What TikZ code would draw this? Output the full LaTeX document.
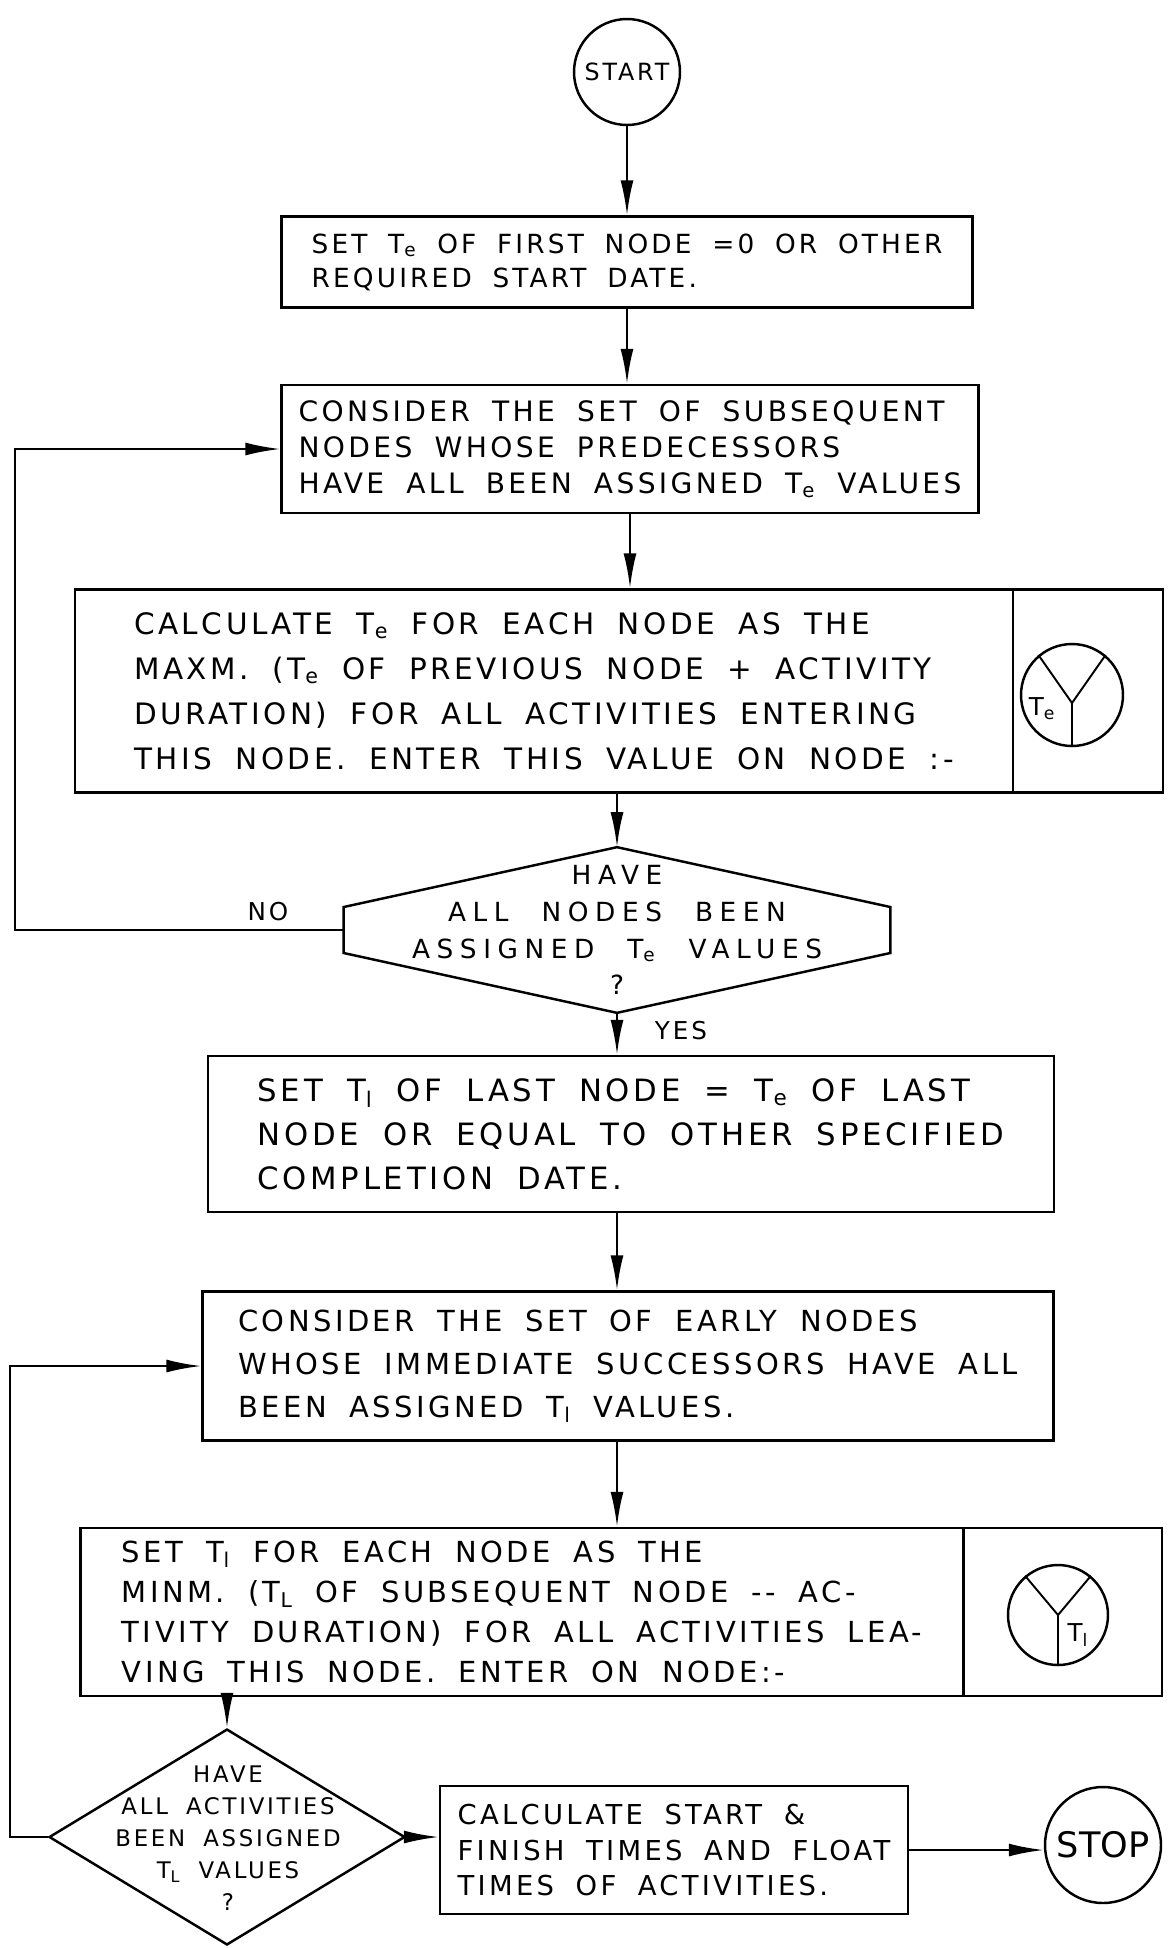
\documentclass[tikz,border=0pt]{standalone}
\usepackage{fontspec}
\usetikzlibrary{arrows.meta,shapes.geometric,calc}
\newfontfamily\hand[LetterSpace=12,WordSpace=1.8]{DejaVu Sans}
\newfontfamily\handwide[LetterSpace=25,WordSpace=2.2]{DejaVu Sans}
\newcommand{\Tsub}[1]{T\textsubscript{#1}}
\begin{document}
\begin{tikzpicture}[x=0.02cm,y=-0.02cm,
  box/.style={draw,line width=1.4pt,inner sep=0pt,align=left},
  ring/.style={draw,circle,line width=1.4pt,inner sep=0pt},
  txt/.style 2 args={font=\hand\fontsize{#1}{#2}\selectfont},
  flow/.style={line width=1.4pt,-{Latex[length=0.7cm,width=0.26cm]}}]
\useasboundingbox (0,0) rectangle (1168,1948);
\node[ring,minimum size=2.12cm,txt={13.5}{14}] (start) at (627,72) {START};
\node[box,minimum width=13.82cm,minimum height=1.82cm,txt={15}{19.4}] (set1) at (627,262)
  {SET \Tsub{e} OF FIRST NODE =0 OR OTHER\\REQUIRED START DATE.};
\node[box,minimum width=13.94cm,minimum height=2.56cm,txt={16}{20.5}] (cons1) at (630,449)
  {CONSIDER THE SET OF SUBSEQUENT\\NODES WHOSE PREDECESSORS\\HAVE ALL BEEN ASSIGNED \Tsub{e} VALUES};
\node[box,minimum width=18.76cm,minimum height=4.06cm,txt={16.8}{25.6}] (calc1) at (544,691)
  {CALCULATE \Tsub{e} FOR EACH NODE AS THE\\MAXM. (\Tsub{e} OF PREVIOUS NODE + ACTIVITY\\DURATION) FOR ALL ACTIVITIES ENTERING\\THIS NODE. ENTER THIS VALUE ON NODE :-};
\node[box,minimum width=3cm,minimum height=4.06cm] (mark1) at (1088,691) {};
\node[ring,minimum size=2.04cm] (te) at (1072,695) {};
\draw[line width=1.1pt] (te.130) -- ($(te.center)+(0,8)$) -- (te.50) ($(te.center)+(0,8)$) -- (te.south);
\node[txt={14}{14}] (telbl) at ($(te.center)+(-30,14)$) {\Tsub{e}};
\node[minimum width=10.92cm,minimum height=3.3cm,font=\handwide\fontsize{15}{21}\selectfont,align=center] (chk) at (617,930)
  {HAVE\\ALL NODES BEEN\\ASSIGNED \Tsub{e} VALUES\\?};
\draw[line width=1.4pt] (chk.north) -- ($(chk.east)+(0,-23)$) -- ($(chk.east)+(0,23)$) -- (chk.south)
  -- ($(chk.west)+(0,23)$) -- ($(chk.west)+(0,-23)$) -- cycle;
\node[box,minimum width=16.92cm,minimum height=3.12cm,txt={17.5}{25}] (setl) at (631,1134)
  {SET \Tsub{l} OF LAST NODE = \Tsub{e} OF LAST\\NODE OR EQUAL TO OTHER SPECIFIED\\COMPLETION DATE.};
\node[box,minimum width=17.02cm,minimum height=2.98cm,txt={16.5}{24.5}] (cons2) at (628,1366)
  {CONSIDER THE SET OF EARLY NODES\\WHOSE IMMEDIATE SUCCESSORS HAVE ALL\\BEEN ASSIGNED \Tsub{l} VALUES.};
\node[box,minimum width=17.66cm,minimum height=3.36cm,txt={16.5}{22.7}] (calc2) at (522,1612)
  {SET \Tsub{l} FOR EACH NODE AS THE\\MINM. (\Tsub{L} OF SUBSEQUENT NODE -- AC-\\TIVITY DURATION) FOR ALL ACTIVITIES LEA-\\VING THIS NODE. ENTER ON NODE:-};
\node[box,minimum width=3.96cm,minimum height=3.36cm] (mark2) at (1063,1612) {};
\node[ring,minimum size=2cm] (tl) at (1058,1615) {};
\draw[line width=1.1pt] (tl.130) -- (tl.center) -- (tl.50) (tl.center) -- (tl.south);
\node[txt={14}{14}] (tllbl) at ($(tl.center)+(20,20)$) {\Tsub{l}};
\node[draw,diamond,line width=1.4pt,minimum width=7.12cm,minimum height=4.32cm] (done) at (227,1837) {};
\node[txt={13}{18.2},align=center] (donetxt) at (228,1838)
  {HAVE\\ALL ACTIVITIES\\BEEN ASSIGNED\\\Tsub{L} VALUES\\?};
\node[box,minimum width=9.36cm,minimum height=2.56cm,txt={15.6}{20}] (fin) at (674,1850)
  {CALCULATE START \&\\FINISH TIMES AND FLOAT\\TIMES OF ACTIVITIES.};
\node[ring,minimum size=2.32cm,font=\fontspec{DejaVu Sans}\fontsize{20}{22}\selectfont] (stop) at (1103,1845) {STOP};
\node[txt={14}{14}] (no) at (268,912) {NO};
\node[txt={14}{14}] (yes) at (681,1031) {YES};
\coordinate (back1) at (15,0);
\coordinate (back2) at (10,0);
\draw[flow] (start) -- (set1);
\draw[flow] (set1.south) -- (set1.south |- cons1.north);
\draw[flow] (cons1.south) -- (cons1.south |- calc1.north);
\draw[flow] (chk.north |- calc1.south) -- (chk.north);
\draw[flow] (chk.south) -- (chk.south |- setl.north);
\draw[flow] (chk.south |- setl.south) -- (chk.south |- cons2.north);
\draw[flow] (chk.south |- cons2.south) -- (chk.south |- calc2.north);
\draw[flow] (done.north |- calc2.south) -- (done.north);
\draw[flow] (done.east) -- (done.east -| fin.west);
\draw[flow] (fin.east) -- (fin.east -| stop.west);
\draw[flow] (chk.west) -- (chk.west -| back1) |- (cons1.west);
\draw[flow] (done.west) -- (done.west -| back2) |- (cons2.west);
\end{tikzpicture}
\end{document}
